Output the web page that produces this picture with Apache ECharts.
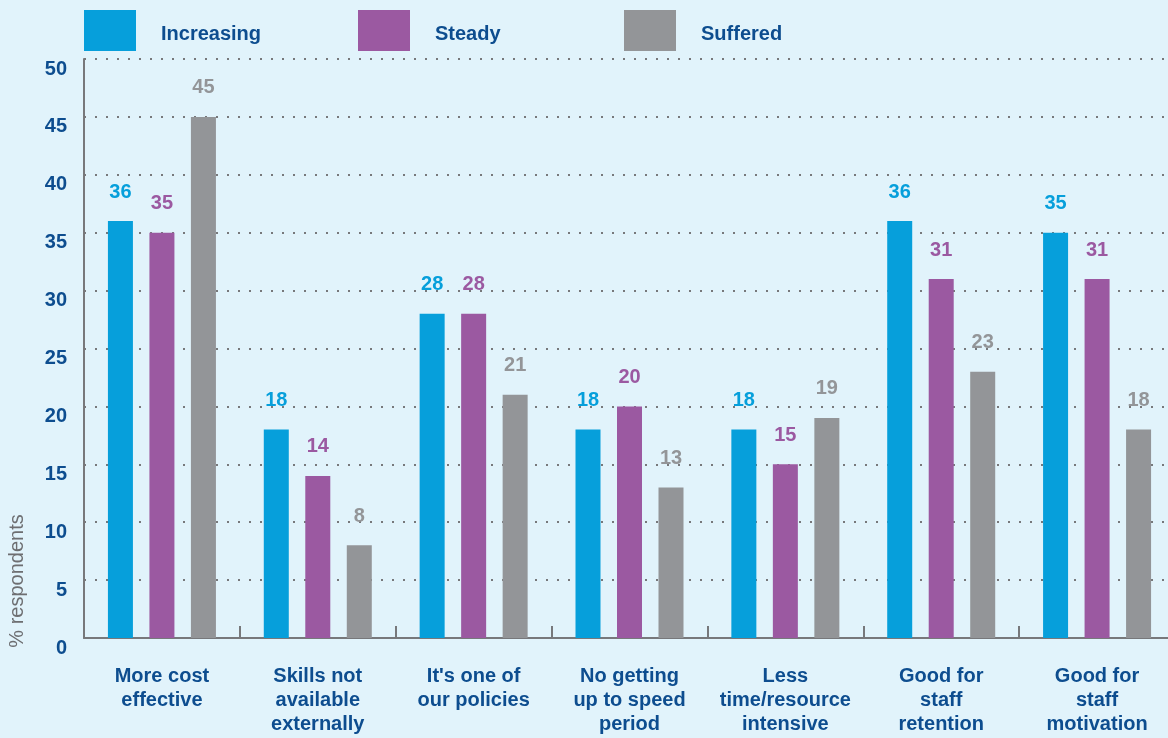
<!DOCTYPE html>
<html>
<head>
<meta charset="utf-8">
<script src="https://cdn.jsdelivr.net/npm/echarts@6/dist/echarts.min.js"></script>
<style>
  html, body { margin: 0; padding: 0; background: #e1f3fb; }
  #chart { width: 1168px; height: 738px; }
</style>
</head>
<body>
<div id="chart"></div>
<script>
// Reasons for the trend, by how the organisation's position has changed
const categories = [
  'More cost\neffective',
  'Skills not\navailable\nexternally',
  "It's one of\nour policies",
  'No getting\nup to speed\nperiod',
  'Less\ntime/resource\nintensive',
  'Good for\nstaff\nretention',
  'Good for\nstaff\nmotivation'
];
const increasing = [36, 18, 28, 18, 18, 36, 35];
const steady     = [35, 14, 28, 20, 15, 31, 31];
const suffered   = [45, 8, 21, 13, 19, 23, 18];
const seriesNames = ['Increasing', 'Steady', 'Suffered'];
const yTicks = { min: 0, max: 50, step: 5 };

const BLUE = '#069fdb', PURPLE = '#9b59a1', GREY = '#939598';
const NAVY = '#0d4d8f';
const FONT = '"Liberation Sans", Arial, Helvetica, sans-serif';

const chart = echarts.init(document.getElementById('chart'));

function legendAt(name, left) {
  return {
    data: [name],
    left: left, top: 10,
    icon: 'rect',
    itemWidth: 52, itemHeight: 41,
    itemGap: 0,
    padding: 0,
    selectedMode: false,
    formatter: '{t|{name}}',
    textStyle: {
      color: NAVY, fontFamily: FONT, fontWeight: 'bold', fontSize: 20,
      rich: {
        t: {
          color: NAVY, fontFamily: FONT, fontWeight: 'bold', fontSize: 20,
          padding: [8, 0, 0, 20]
        }
      }
    }
  };
}

function barSeries(name, values, color) {
  return {
    name: name,
    type: 'bar',
    data: values,
    barWidth: 25,
    barGap: '66%',
    itemStyle: { color: color },
    label: {
      show: true,
      position: 'top',
      distance: 19,
      color: color,
      textBorderWidth: 0,
      fontFamily: FONT,
      fontWeight: 'bold',
      fontSize: 20
    }
  };
}

chart.setOption({
  backgroundColor: '#e1f3fb',
  animation: false,
  legend: [
    legendAt(seriesNames[0], 84),
    legendAt(seriesNames[1], 358),
    legendAt(seriesNames[2], 624)
  ],
  grid: {
    left: 84, top: 59, width: 1091, bottom: 100,
    containLabel: false, outerBoundsMode: 'none'
  },
  xAxis: {
    type: 'category',
    data: categories,
    boundaryGap: true,
    axisLine: { show: true, lineStyle: { color: '#77787b', width: 2 } },
    axisTick: { show: true, inside: true, length: 12, interval: 0, lineStyle: { color: '#77787b', width: 2 } },
    axisLabel: {
      interval: 0,
      margin: 26,
      color: NAVY,
      fontFamily: FONT,
      fontWeight: 'bold',
      fontSize: 20,
      lineHeight: 24,
      align: 'center'
    }
  },
  yAxis: {
    type: 'value',
    min: yTicks.min, max: yTicks.max, interval: yTicks.step,
    axisLine: { show: true, lineStyle: { color: '#77787b', width: 2 } },
    axisTick: { show: false },
    axisLabel: {
      margin: 17,
      verticalAlign: 'top',
      color: NAVY,
      fontFamily: FONT,
      fontWeight: 'bold',
      fontSize: 20
    },
    splitLine: {
      show: true,
      lineStyle: { color: '#77787b', width: 2, type: [2, 9] }
    }
  },
  graphic: [{
    type: 'text',
    x: 17, y: 581,
    rotation: Math.PI / 2,
    style: {
      text: '% respondents',
      fill: '#6d6e71',
      font: '20px ' + FONT,
      textAlign: 'center',
      textVerticalAlign: 'middle'
    }
  }],
  series: [
    barSeries(seriesNames[0], increasing, BLUE),
    barSeries(seriesNames[1], steady, PURPLE),
    barSeries(seriesNames[2], suffered, GREY)
  ]
});
</script>
</body>
</html>
